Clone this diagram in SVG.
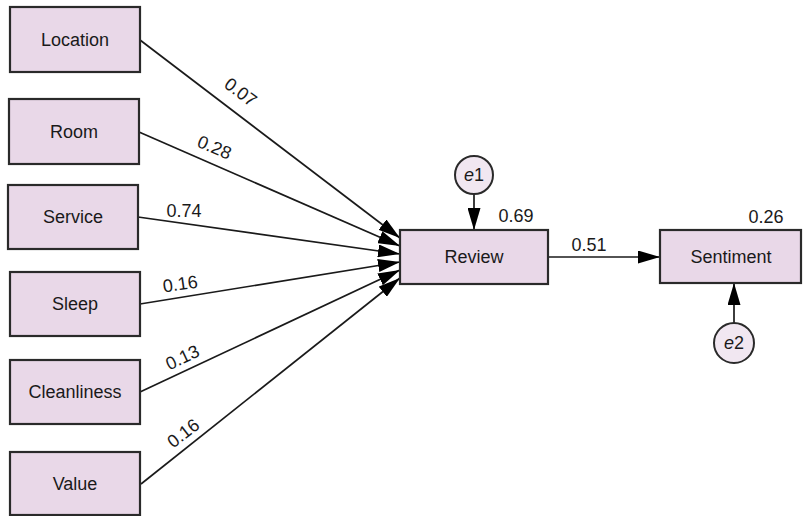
<svg xmlns="http://www.w3.org/2000/svg" width="804" height="516" viewBox="0 0 804 516">
<style>
.box{fill:#E9D8E8;stroke:#2a2a2a;stroke-width:2.2}
.err{fill:#F1E7F1;stroke:#2a2a2a;stroke-width:2}
.lbl{font-family:"Liberation Sans",Arial,sans-serif;font-size:18px;fill:#1a1a1a;text-anchor:middle}
.num{font-family:"Liberation Sans",Arial,sans-serif;font-size:18px;fill:#1a1a1a;text-anchor:middle}
.edge{stroke:#1a1a1a;stroke-width:1.7;fill:none;marker-end:url(#ah)}
</style>
<defs>
<marker id="ah" viewBox="0 0 22 13" refX="22" refY="6.5" markerWidth="22" markerHeight="13" orient="auto" markerUnits="userSpaceOnUse">
<path d="M0,0 L22,6.5 L0,13 Z" fill="#000"/>
</marker>
</defs>
<g id="connectors">
<line class="edge" x1="140" y1="40" x2="400" y2="238"/>
<line class="edge" x1="139" y1="132" x2="400" y2="246"/>
<line class="edge" x1="138" y1="217" x2="400" y2="254"/>
<line class="edge" x1="140" y1="304" x2="400" y2="262"/>
<line class="edge" x1="140" y1="392" x2="400" y2="270"/>
<line class="edge" x1="141" y1="484" x2="400" y2="278"/>
<line class="edge" x1="474" y1="194" x2="474" y2="230"/>
<line class="edge" x1="548" y1="257" x2="660" y2="257"/>
<line class="edge" x1="734" y1="323" x2="734" y2="283"/>
<text class="num" transform="translate(237,97) rotate(37)">0.07</text>
<text class="num" transform="translate(212,153) rotate(23)">0.28</text>
<text class="num" x="184" y="217">0.74</text>
<text class="num" transform="translate(181,290) rotate(-8)">0.16</text>
<text class="num" transform="translate(185,363) rotate(-25)">0.13</text>
<text class="num" transform="translate(187,438) rotate(-38)">0.16</text>
<text class="num" x="589" y="251">0.51</text>
</g>
<g id="location"><rect class="box" x="10" y="7" width="130" height="65"/><text class="lbl" x="75" y="46">Location</text></g>
<g id="room"><rect class="box" x="9" y="99" width="130" height="65"/><text class="lbl" x="74" y="138">Room</text></g>
<g id="service"><rect class="box" x="8" y="185" width="130" height="64"/><text class="lbl" x="73" y="223">Service</text></g>
<g id="sleep"><rect class="box" x="10" y="272" width="130" height="64"/><text class="lbl" x="75" y="310">Sleep</text></g>
<g id="cleanliness"><rect class="box" x="10" y="360" width="130" height="64"/><text class="lbl" x="75" y="398">Cleanliness</text></g>
<g id="value"><rect class="box" x="10" y="452" width="130" height="63"/><text class="lbl" x="75" y="490">Value</text></g>
<g id="review"><rect class="box" x="400" y="230" width="148" height="54"/><text class="lbl" x="474" y="263">Review</text><text class="num" x="516" y="222">0.69</text></g>
<g id="sentiment"><rect class="box" x="660" y="230" width="141" height="53"/><text class="lbl" x="731" y="263">Sentiment</text><text class="num" x="766" y="223">0.26</text></g>
<g id="e1"><circle class="err" cx="474" cy="175" r="19"/><text class="lbl" x="474" y="181"><tspan font-style="italic">e</tspan>1</text></g>
<g id="e2"><circle class="err" cx="734" cy="343" r="20"/><text class="lbl" x="734" y="349"><tspan font-style="italic">e</tspan>2</text></g>
</svg>
